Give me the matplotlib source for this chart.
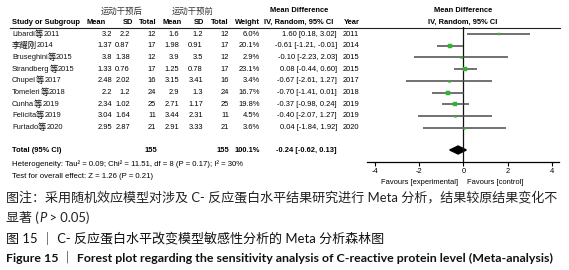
import re
import matplotlib.pyplot as plt
import numpy as np

# study rows
studies = ['Libardi等2011', '李耀刚2014', 'Bruseghini等2015', 'Strandberg等2015', 'Chupel等2017',
           'Tomeleri等2018', 'Cunha等2019', 'Felicita等2019', 'Furtado等2020']
post_mean = [3.2, 1.37, 3.8, 1.33, 2.48, 2.2, 2.34, 3.04, 2.95]
post_sd = [2.2, 0.87, 1.38, 0.76, 2.02, 1.2, 1.02, 1.64, 2.87]
post_n = [12, 17, 12, 17, 16, 24, 25, 11, 21]
pre_mean = [1.6, 1.98, 3.9, 1.25, 3.15, 2.9, 2.71, 3.44, 2.91]
pre_sd = [1.2, 0.91, 3.5, 0.78, 3.41, 1.3, 1.17, 2.31, 3.33]
pre_n = [12, 17, 12, 17, 16, 24, 25, 11, 21]
weight = [6.0, 20.1, 2.9, 23.1, 3.4, 16.7, 19.8, 4.5, 3.6]
md = [1.60, -0.61, -0.10, 0.08, -0.67, -0.70, -0.37, -0.40, 0.04]
ci_lo = [0.18, -1.21, -2.23, -0.44, -2.61, -1.41, -0.98, -2.07, -1.84]
ci_hi = [3.02, -0.01, 2.03, 0.60, 1.27, 0.01, 0.24, 1.27, 1.92]
year = [2011, 2014, 2015, 2015, 2017, 2018, 2019, 2019, 2020]

# pooled result
total_md, total_lo, total_hi = -0.24, -0.62, 0.13
total_post_n, total_pre_n = 155, 155
x_ticks = [-4, -2, 0, 2, 4]

plt.rcParams['axes.unicode_minus'] = False

W, H = 569, 270
fig = plt.figure(figsize=(W / 100, H / 100), dpi=100)
bg = fig.add_axes([0, 0, 1, 1])
bg.set_xlim(0, W)
bg.set_ylim(H, 0)
bg.axis('off')

TAB = 'Liberation Sans'
CJK = 'Noto Sans CJK SC'
CAP = ['Lato', 'Noto Sans CJK SC']
fs = 5.4
cjk_fs = 6.0
green = '#2fb52f'

row_y = 34 + 11.7 * np.arange(len(studies))
total_y = 150

CJK_RE = r'[\u3000-\u9fff\uff00-\uffef]'


def t(x, y, s, ha='left', **kw):
    kw.setdefault('family', TAB)
    kw.setdefault('fontsize', fs)
    return bg.text(x, y, s, ha=ha, va='center', **kw)


def mixed(x, y, s, **kw):
    # latin and CJK runs drawn one after another, each in its own font
    prev = None
    for run in re.findall(CJK_RE + '+|[^\u3000-\u9fff\uff00-\uffef]+', s):
        cjk = bool(re.match(CJK_RE, run))
        fam = CJK if cjk else TAB
        fsz = cjk_fs if cjk else fs
        if prev is None:
            prev = bg.text(x, y, run, family=fam, fontsize=fsz, va='center',
                           color='#111111', **kw)
        else:
            prev = bg.annotate(run, xy=(1, 0.5), xycoords=prev, va='center',
                               family=fam, fontsize=fsz, color='#111111', **kw)
    return prev


# headers
t(122, 11, '运动干预后', ha='center', family=CJK, fontsize=cjk_fs, color='#333333')
t(193, 11, '运动干预前', ha='center', family=CJK, fontsize=cjk_fs, color='#333333')
t(299, 11, 'Mean Difference', ha='center', weight='bold')
t(463, 11, 'Mean Difference', ha='center', weight='bold')
t(12, 22.5, 'Study or Subgroup', weight='bold')
for x, s in [(106, 'Mean'), (133, 'SD'), (157, 'Total'), (182, 'Mean'),
             (204, 'SD'), (229, 'Total'), (260, 'Weight')]:
    t(x, 22.5, s, ha='right', weight='bold')
t(299, 22.5, 'IV, Random, 95% CI', ha='center', weight='bold')
t(344, 22.5, 'Year', weight='bold')
t(463, 22.5, 'IV, Random, 95% CI', ha='center', weight='bold')
bg.plot([10, 560], [27.5, 27.5], color='#222222', lw=0.8)

# table rows
for i, y in enumerate(row_y):
    mixed(12, y, studies[i])
    t(112, y, str(post_mean[i]), ha='right')
    t(130, y, str(post_sd[i]), ha='right')
    t(156, y, str(post_n[i]), ha='right')
    t(179, y, str(pre_mean[i]), ha='right')
    t(203, y, str(pre_sd[i]), ha='right')
    t(229, y, str(pre_n[i]), ha='right')
    t(260, y, f'{weight[i]:.1f}%', ha='right')
    t(337, y, f'{md[i]:.2f} [{ci_lo[i]:.2f}, {ci_hi[i]:.2f}]', ha='right')
    t(343, y, str(year[i]))

t(12, total_y, 'Total (95% CI)', weight='bold')
t(157, total_y, str(total_post_n), ha='right', weight='bold')
t(229, total_y, str(total_pre_n), ha='right', weight='bold')
t(260, total_y, f'{sum(weight):.1f}%', ha='right', weight='bold')
t(337, total_y, f'{total_md:.2f} [{total_lo:.2f}, {total_hi:.2f}]', ha='right', weight='bold')
t(12, 164.5, 'Heterogeneity: Tau² = 0.09; Chi² = 11.51, df = 8 (P = 0.17); I² = 30%', fontsize=5.6)
t(12, 176, 'Test for overall effect: Z = 1.26 (P = 0.21)', fontsize=5.6)

# forest panel
fa = fig.add_axes([367 / W, (H - 162) / H, (559 - 367) / W, (162 - 27) / H])
fa.set_xlim(-4.36, 4.32)
fa.set_ylim(162, 27)
fa.patch.set_alpha(0)
for sp in ['top', 'right', 'left']:
    fa.spines[sp].set_visible(False)
fa.spines['bottom'].set_linewidth(0.9)
fa.set_yticks([])
fa.set_xticks(x_ticks)
fa.set_xticklabels([str(v) for v in x_ticks], family=TAB, fontsize=fs)
fa.tick_params(axis='x', direction='out', length=3, width=0.8, pad=1.5)
fa.axvline(0, color='#111111', lw=0.9)

fa.hlines(row_y, ci_lo, ci_hi, color='#4a4a4a', lw=1.1)
for i, y in enumerate(row_y):
    ms = 2.9 * np.sqrt(weight[i] / max(weight))
    fa.plot(md[i], y, 's', ms=max(ms, 1.4), color=green, mec=green, mew=0.3)

fa.fill([total_lo, total_md, total_hi, total_md],
        [total_y, total_y - 4, total_y, total_y + 4], color='black')

t(458, 182, 'Favours [experimental]', ha='right')
t(467, 182, 'Favours [control]')

# caption
cfs = 9.4
bg.text(6, 198, '图注：采用随机效应模型对涉及 C- 反应蛋白水平结果研究进行 Meta 分析，结果较原结果变化不',
        family=CAP, fontsize=cfs, va='center', color='#222222')
c1 = bg.text(6, 218, '显著 (', family=CAP, fontsize=cfs, va='center', color='#222222')
c2 = bg.annotate('P', xy=(1, 0.5), xycoords=c1, va='center', family=CAP, fontsize=cfs,
                 style='italic', color='#222222')
bg.annotate(' > 0.05)', xy=(1, 0.5), xycoords=c2, va='center', family=CAP, fontsize=cfs,
            color='#222222')
bg.text(6, 238, '图 15 ｜ C- 反应蛋白水平改变模型敏感性分析的 Meta 分析森林图',
        family=CAP, fontsize=cfs, va='center', color='#111111')
bg.text(6, 258, 'Figure 15 ｜ Forest plot regarding the sensitivity analysis of C-reactive protein level (Meta-analysis)',
        family=CAP, fontsize=8.95, va='center', weight='bold', color='#111111')

fig.savefig('out.png', dpi=100)
